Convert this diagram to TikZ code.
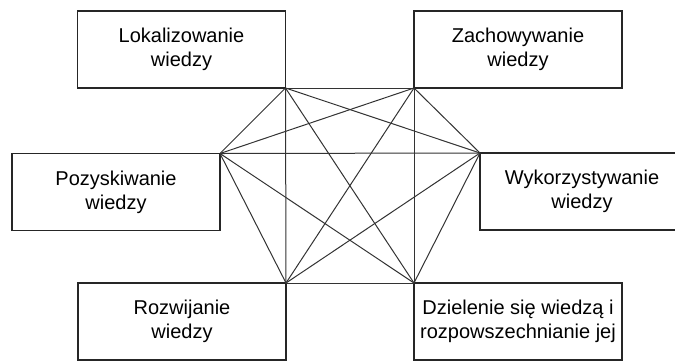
\documentclass[tikz,border=0pt]{standalone}
\usepackage{fontspec}
\setmainfont{Liberation Sans}
\usetikzlibrary{positioning}

\begin{document}
\begin{tikzpicture}[x=0.5pt, y=-0.5pt, line width=0.6pt,
    box/.style={draw=black!85, minimum width=104pt, minimum height=38.5pt,
                inner sep=0pt, outer sep=0pt, align=center}]
    \useasboundingbox (0,0) rectangle (675,361);
    \node[box] (lok) at (181.5,49.5) {Lokalizowanie\\wiedzy};
    \node[box] (zach) at (518,49.5) {Zachowywanie\\wiedzy};
    \node[box] (pozy) at (116,192) {Pozyskiwanie\\wiedzy};
    \node[box, minimum width=102pt] (wyk) at (582,191.5) {Wykorzystywanie\\wiedzy};
    \node[box] (rozw) at (182,321.5) {Rozwijanie\\wiedzy};
    \node[box] (dziel) at (518,321.5) {Dzielenie się wiedzą i\\rozpowszechnianie jej};
    \coordinate (a) at (lok.south east);
    \coordinate (b) at (zach.south west);
    \coordinate (c) at (pozy.north east);
    \coordinate (d) at (wyk.north west);
    \coordinate (e) at (rozw.north east);
    \coordinate (f) at (dziel.north west);
    \path[draw=black!80, line width=0.5pt]
        (a) edge (b) (a) edge (c) (a) edge (d) (a) edge (e) (a) edge (f)
        (b) edge (c) (b) edge (d) (b) edge (e) (b) edge (f)
        (c) edge (d) (c) edge (e) (c) edge (f)
        (d) edge (e) (d) edge (f)
        (e) edge (f);
\end{tikzpicture}
\end{document}
